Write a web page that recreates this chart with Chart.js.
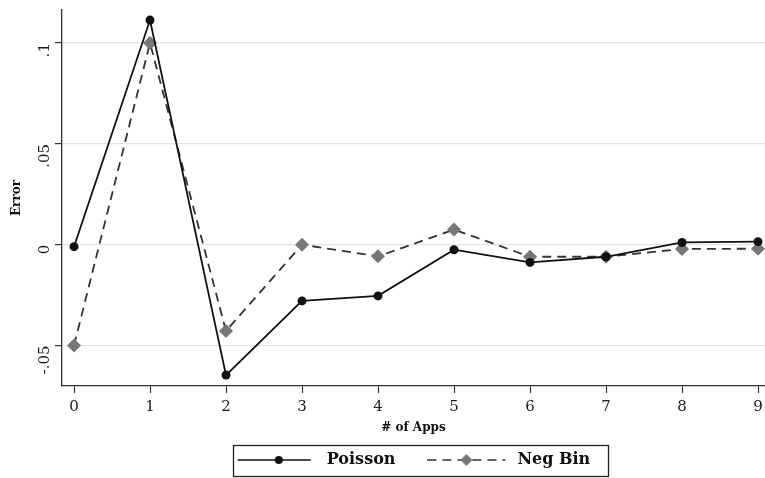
<!DOCTYPE html>
<html>
<head>
<meta charset="utf-8">
<script src="https://cdn.jsdelivr.net/npm/chart.js@4/dist/chart.umd.min.js"></script>
<style>
html,body{margin:0;padding:0;background:#fff;}
#wrap{width:765px;height:478px;position:relative;}
</style>
</head>
<body>
<div id="wrap"><canvas id="c" width="765" height="478"></canvas></div>
<script>
const categories = [0, 1, 2, 3, 4, 5, 6, 7, 8, 9];
const poisson = [-0.001, 0.1114, -0.0647, -0.0279, -0.0254, -0.0025, -0.0088, -0.006, 0.0011, 0.0015];
const negBin = [-0.050, 0.100, -0.0428, 0.000, -0.0058, 0.0075, -0.006, -0.006, -0.0021, -0.002];
const yTicks = [-0.05, 0, 0.05, 0.1];
const yTickLabels = ['-.05', '0', '.05', '.1'];
const xTicks = [0, 1, 2, 3, 4, 5, 6, 7, 8, 9];

const SERIF = "'DejaVu Serif', 'Liberation Serif', serif";

function legendSymbol(kind) {
  const c = document.createElement('canvas');
  c.width = 82; c.height = 14;
  const g = c.getContext('2d');
  g.lineWidth = 1.7;
  if (kind === 'poisson') {
    g.strokeStyle = '#111';
    g.beginPath(); g.moveTo(1, 7); g.lineTo(74, 7); g.stroke();
    g.fillStyle = '#111';
    g.beginPath(); g.arc(42, 7, 4, 0, Math.PI * 2); g.fill();
  } else {
    g.strokeStyle = '#333';
    g.setLineDash([9, 6]);
    g.beginPath(); g.moveTo(0, 7); g.lineTo(78, 7); g.stroke();
    g.setLineDash([]);
    g.fillStyle = '#777';
    g.beginPath(); g.moveTo(39, 1); g.lineTo(45, 7); g.lineTo(39, 13); g.lineTo(33, 7); g.closePath(); g.fill();
  }
  return c;
}
const symPoisson = legendSymbol('poisson');
const symNegBin = legendSymbol('negbin');

const legendBox = {
  id: 'legendBox',
  afterDraw(chart) {
    const lg = chart.legend;
    if (!lg || !lg.legendHitBoxes || !lg.legendHitBoxes.length) return;
    const hb = lg.legendHitBoxes;
    const first = hb[0], last = hb[hb.length - 1];
    const cy = first.top + first.height / 2;
    const l = first.left - 4, r = last.left + last.width + 18;
    const ctx = chart.ctx;
    ctx.save();
    ctx.strokeStyle = '#222';
    ctx.lineWidth = 1.3;
    ctx.strokeRect(Math.round(l) + 0.5, Math.round(cy - 15) + 0.5, Math.round(r - l), 31);
    ctx.restore();
  }
};

new Chart(document.getElementById('c'), {
  type: 'line',
  data: {
    datasets: [
      {
        label: 'Poisson',
        data: categories.map((x, i) => ({ x: x, y: poisson[i] })),
        borderColor: '#111',
        backgroundColor: '#111',
        borderWidth: 1.8,
        pointStyle: 'circle',
        pointRadius: 4.5,
        pointBackgroundColor: '#111',
        pointBorderWidth: 0,
        tension: 0
      },
      {
        label: 'Neg Bin',
        data: categories.map((x, i) => ({ x: x, y: negBin[i] })),
        borderColor: '#333',
        backgroundColor: '#777',
        borderWidth: 1.8,
        borderDash: [9, 6],
        pointStyle: 'rectRot',
        pointRadius: 7,
        pointBackgroundColor: '#777',
        pointBorderWidth: 0,
        tension: 0
      }
    ]
  },
  options: {
    responsive: false,
    animation: false,
    layout: { autoPadding: false, padding: { top: 10, right: 0, left: 0, bottom: 0 } },
    plugins: {
      tooltip: { enabled: false },
      legend: {
        position: 'bottom',
        fullSize: false,
        labels: {
          usePointStyle: true,
          pointStyleWidth: 82,
          boxHeight: 14,
          padding: 8,
          color: '#111',
          font: { family: SERIF, size: 16, weight: 'bold' },
          generateLabels(chart) {
            return [
              { text: 'Poisson\u2003\u2002', pointStyle: symPoisson, datasetIndex: 0, fontColor: '#111', lineWidth: 0, strokeStyle: 'rgba(0,0,0,0)', fillStyle: 'rgba(0,0,0,0)' },
              { text: 'Neg Bin', pointStyle: symNegBin, datasetIndex: 1, fontColor: '#111', lineWidth: 0, strokeStyle: 'rgba(0,0,0,0)', fillStyle: 'rgba(0,0,0,0)' }
            ];
          }
        }
      }
    },
    scales: {
      x: {
        type: 'linear',
        min: -0.158,
        max: 9.092,
        afterBuildTicks(axis) { axis.ticks = xTicks.map(v => ({ value: v })); },
        afterFit(axis) { axis.height = 58; axis.paddingRight = 0; axis.paddingLeft = 0; },
        ticks: {
          color: '#1a1a1a',
          font: { family: SERIF, size: 15 },
          padding: 5,
          maxRotation: 0,
          callback: v => String(v)
        },
        grid: {
          drawOnChartArea: false,
          drawTicks: true,
          tickLength: 7,
          tickColor: '#333',
          tickWidth: 1.2
        },
        border: { display: true, color: '#333', width: 1.3 },
        title: {
          display: true,
          text: '# of Apps',
          color: '#111',
          font: { family: SERIF, size: 12, weight: 'bold' },
          padding: { top: 0, bottom: 9 }
        }
      },
      y: {
        type: 'linear',
        min: -0.0701,
        max: 0.1164,
        afterBuildTicks(axis) { axis.ticks = yTicks.map(v => ({ value: v })); },
        afterFit(axis) { axis.width = 62; axis.paddingTop = 0; axis.paddingBottom = 0; },
        ticks: {
          color: '#1a1a1a',
          font: { family: SERIF, size: 15 },
          minRotation: 90,
          maxRotation: 90,
          padding: 10,
          callback: v => {
            const i = yTicks.findIndex(t => Math.abs(t - v) < 1e-9);
            return i >= 0 ? yTickLabels[i] : '';
          }
        },
        grid: {
          drawOnChartArea: true,
          color: '#e3e3e3',
          lineWidth: 1.2,
          drawTicks: true,
          tickLength: 7,
          tickColor: '#333',
          tickWidth: 1.2
        },
        border: { display: true, color: '#333', width: 1.3 },
        title: {
          display: true,
          text: 'Error',
          color: '#111',
          font: { family: SERIF, size: 12, weight: 'bold' },
          padding: { top: 10, bottom: 0 }
        }
      }
    }
  },
  plugins: [legendBox]
});
</script>
</body>
</html>
